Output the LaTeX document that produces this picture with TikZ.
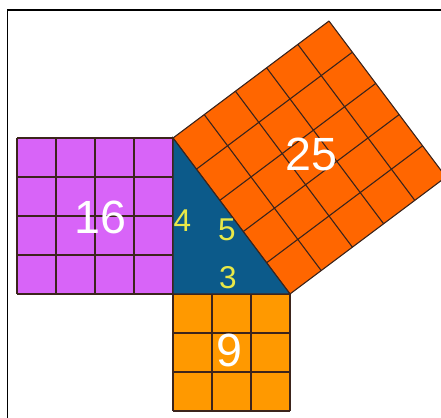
\documentclass[tikz,border=0pt]{standalone}
\usepackage{fontspec}
\setmainfont{Liberation Sans}
\definecolor{purplesq}{RGB}{216,100,248}
\definecolor{ninesq}{RGB}{255,153,0}
\definecolor{hypsq}{RGB}{255,102,0}
\definecolor{triblue}{RGB}{12,90,138}
\definecolor{numyellow}{RGB}{232,232,72}
\definecolor{linebrown}{RGB}{60,36,28}

\begin{document}
\begin{tikzpicture}[gridline/.style={draw=linebrown, line width=0.8pt},
    bignum/.style={text=white, font=\fontsize{34}{34}\selectfont, inner sep=0pt},
    sidenum/.style={text=numyellow, font=\fontsize{23}{23}\selectfont, inner sep=0pt}]
    \useasboundingbox (-4.436, -3.179) rectangle (6.872, 7.538);
    \clip (-4.436, -3.179) rectangle (6.872, 7.538);

    % frame
    \draw[line width=0.8pt] (-4.244, -4) |- (8, 7.282);

    % squares on the legs
    \fill[purplesq] (-4, 0) rectangle (0, 4);
    \draw[gridline] (-4, 0) grid (0, 4);
    \fill[ninesq] (0, -3) rectangle (3, 0);
    \draw[gridline] (0, -3) grid (3, 0);

    % square on the hypotenuse
    \begin{scope}[shift={(3, 0)}, rotate=36.87]
        \fill[hypsq] (0, 0) -- (5, 0) -- (5, 5) -- (0, 5) -- cycle;
        \draw[gridline] (0, 0) grid (5, 5);
    \end{scope}

    \filldraw[fill=triblue, gridline] (0, 0) -- (0, 4) -- (3, 0) -- cycle;

    \node at (-1.87, 1.97) [bignum] (n16) {16};
    \node at (3.56, 3.57) [bignum] (n25) {25};
    \node at (1.46, -1.46) [bignum] (n9) {9};
    \node at (0.24, 1.87) [sidenum] (s4) {4};
    \node at (1.38, 1.64) [sidenum] (s5) {5};
    \node at (1.41, 0.41) [sidenum] (s3) {3};

\end{tikzpicture}
\end{document}
